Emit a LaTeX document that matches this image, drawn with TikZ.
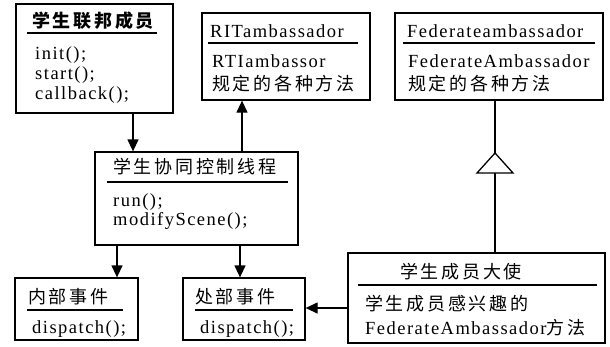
\documentclass[tikz,border=0pt]{standalone}
\usepackage{fontspec}
\usetikzlibrary{arrows.meta}
\setmainfont{Liberation Serif}[LetterSpace=8]
\newfontfamily\cjk{Noto Sans CJK SC}[LetterSpace=15]
\begin{document}
\begin{tikzpicture}[x=1pt,y=-1pt,
  box/.style={draw, line width=1.3pt, inner sep=0pt},
  txt/.style={anchor=west, inner sep=0pt, font=\fontsize{18.5}{21}\selectfont},
  ctxt/.style={anchor=west, inner sep=0pt, font=\fontsize{18}{21}\selectfont\cjk},
  rulel/.style={line width=1.3pt},
  arr/.style={line width=1.3pt, -{Triangle[length=12pt,width=11pt]}}]
\useasboundingbox (0,0) rectangle (610,346);
% boxes
\node[box, minimum width=157, minimum height=109] (b1) at (94.5,58.5) {};
\node[box, minimum width=168, minimum height=87] (b2) at (286,56.5) {};
\node[box, minimum width=208, minimum height=87] (b3) at (499,56.5) {};
\node[box, minimum width=203, minimum height=93] (b4) at (196.5,198.5) {};
\node[box, minimum width=123, minimum height=62] (b5) at (76.5,309) {};
\node[box, minimum width=122, minimum height=62] (b6) at (244,309) {};
\node[box, minimum width=257, minimum height=90] (b7) at (476.5,298) {};
% underlines
\draw[rulel] (27,33) -- (157,33);
\draw[rulel] (208,43) -- (358,43);
\draw[rulel] (403,43) -- (595,43);
\draw[rulel] (107,182) -- (288,182);
\draw[rulel] (27,310) -- (123,310);
\draw[rulel] (195,310) -- (293,310);
\draw[rulel] (358,285) -- (597,285);
% texts b1
\node[ctxt] (t1) at (32,21) {\bfseries 学生联邦成员};
\node[txt] (t1a) at (35,55) {init();};
\node[txt] (t1b) at (35,75) {start();};
\node[txt] (t1c) at (35,95) {callback();};
% b2
\node[txt] (t2) at (210,31) {RITambassador};
\node[txt] (t2a) at (212,61) {RTIambassor};
\node[ctxt] (t2b) at (212,84) {规定的各种方法};
% b3
\node[txt] (t3) at (407,31) {Federateambassador};
\node[txt] (t3a) at (408,61) {FederateAmbassador};
\node[ctxt] (t3b) at (408,84) {规定的各种方法};
% b4
\node[ctxt] (t4) at (113,167) {学生协同控制线程};
\node[txt] (t4a) at (113,202) {run();};
\node[txt] (t4b) at (113,221) {modifyScene();};
% b5
\node[ctxt] (t5) at (28,297) {内部事件};
\node[txt] (t5a) at (32,329) {dispatch();};
% b6
\node[ctxt] (t6) at (195,297) {处部事件};
\node[txt] (t6a) at (200,329) {dispatch();};
% b7
\node[ctxt] (t7) at (400,272) {学生成员大使};
\node[ctxt] (t7a) at (365,304) {学生成员感兴趣的};
\node[txt] (t7b) at (365,328) {FederateAmbassador{\cjk\fontsize{18}{21}\selectfont 方法}};
% connectors
\draw[arr] (b1.south -| 133,0) -- (b4.north -| 133,0);
\draw[arr] (b4.north -| 242,0) -- (b2.south -| 242,0);
\draw[arr] (b4.south -| 117,0) -- (b5.north -| 117,0);
\draw[arr] (b4.south -| 240,0) -- (b6.north -| 240,0);
\draw[arr] (b7.west |- 0,308) -- (b6.east |- 0,308);
% inheritance
\coordinate (apex) at (495,153);
\coordinate (base) at (495,173);
\draw[line width=1.3pt] (b7.north -| base) -- (base);
\draw[line width=1.3pt, fill=white] (apex) -- (477,173) -- (513,173) -- cycle;
\draw[line width=1.3pt] (apex) -- (b3.south -| apex);
\end{tikzpicture}
\end{document}
